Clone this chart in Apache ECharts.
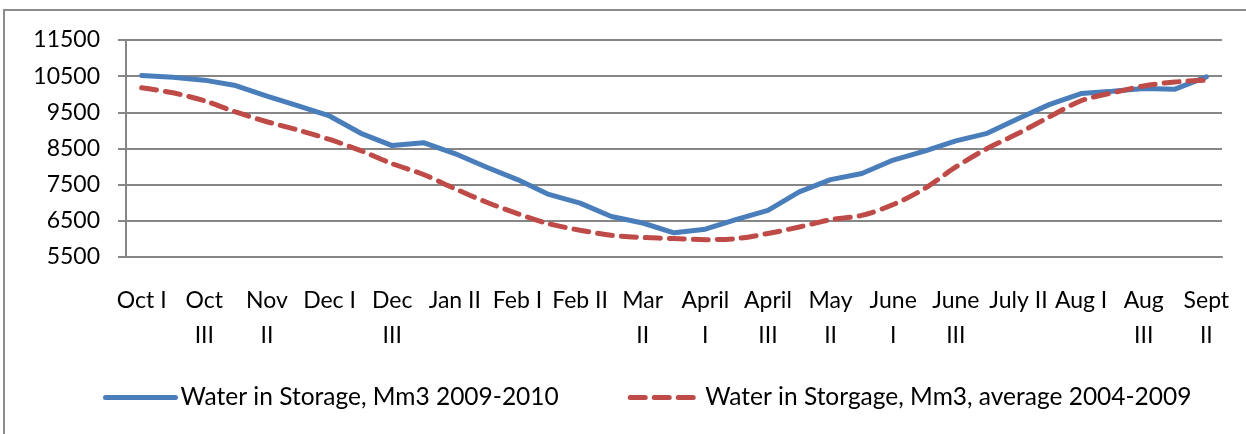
<!DOCTYPE html>
<html lang="en">
	<head>
		<meta charset="utf-8">
	</head>
	<body style="margin: 0; background: #fff">
		<div id="container" style="width: 1246px; height: 434px"></div>
		<script type="text/javascript" src="https://cdn.jsdelivr.net/npm/echarts@6/dist/echarts.min.js"></script>
		<script type="text/javascript">
			// dekads, Oct I .. Sept II (only every other one is shown on the axis)
			const categories = ['Oct I', 'Oct II', 'Oct\nIII', 'Nov I', 'Nov\nII', 'Nov III', 'Dec I', 'Dec II', 'Dec\nIII',
				'Jan I', 'Jan II', 'Jan III', 'Feb I', 'Feb II', 'Feb II', 'Mar I', 'Mar\nII', 'Mar III',
				'April\nI', 'April II', 'April\nIII', 'May I', 'May\nII', 'May III', 'June\nI', 'June II', 'June\nIII',
				'July I', 'July II', 'July III', 'Aug I', 'Aug II', 'Aug\nIII', 'Sept I', 'Sept\nII'
			]
			const storage2009 = [10520, 10470, 10390, 10240, 9950, 9680, 9400, 8920, 8580, 8660, 8360, 7990, 7640, 7230,
				6990, 6620, 6440, 6170, 6270, 6540, 6790, 7300, 7640, 7810, 8180, 8430, 8710, 8920, 9330, 9720, 10020,
				10080, 10160, 10140, 10480
			]
			const storageAvg = [10180, 10040, 9820, 9510, 9240, 9010, 8750, 8440, 8080, 7780, 7390, 7020, 6700, 6420,
				6240, 6100, 6040, 6010, 5980, 6010, 6150, 6330, 6530, 6650, 6950, 7390, 7990, 8500, 8920, 9380, 9820,
				10040, 10230, 10340, 10390
			]

			var chartDom = document.getElementById('container');
			var myChart = echarts.init(chartDom);
			var font = 'Lato';
			var option = {
				animation: false,
				textStyle: {
					fontFamily: font
				},
				graphic: [{
					type: 'rect',
					shape: { x: 4, y: 10, width: 1400, height: 600 },
					style: { fill: 'none', stroke: '#8c8c8c', lineWidth: 2 },
					silent: true
				}],
				grid: {
					left: 126,
					right: 24,
					top: 40,
					bottom: 177
				},
				legend: {
					left: 98,
					top: 380,
					itemWidth: 70,
					itemHeight: 14,
					itemGap: 69,
					itemStyle: { opacity: 0 },
					lineStyle: { width: 5, cap: 'round' },
					textStyle: {
						fontFamily: font,
						fontSize: 24.5,
						color: '#000'
					}
				},
				xAxis: {
					type: 'category',
					boundaryGap: true,
					data: categories,
					axisLine: { lineStyle: { color: '#868686', width: 2 } },
					axisTick: { interval: 0, length: 8, lineStyle: { color: '#868686', width: 2 } },
					axisLabel: {
						interval: 1,
						margin: 26,
						fontSize: 23,
						lineHeight: 35,
						color: '#000',
						fontFamily: font
					}
				},
				yAxis: {
					type: 'value',
					min: 5500,
					max: 11500,
					interval: 1000,
					axisLine: { show: true, lineStyle: { color: '#868686', width: 2 } },
					axisTick: { show: true, length: 8, lineStyle: { color: '#868686', width: 2 } },
					splitLine: { lineStyle: { color: '#868686', width: 2 } },
					axisLabel: {
						margin: 26,
						fontSize: 23,
						color: '#000',
						fontFamily: font,
						formatter: function(v) {
							return String(v)
						}
					}
				},
				series: [{
						name: 'Water in Storage, Mm3 2009-2010',
						type: 'line',
						data: storage2009,
						symbol: 'none',
						color: '#4A7EBB',
						lineStyle: { width: 5, color: '#4A7EBB', cap: 'round', join: 'round' }
					},
					{
						name: 'Water in Storgage, Mm3, average 2004-2009',
						type: 'line',
						data: storageAvg,
						symbol: 'none',
						smooth: 0.3,
						color: '#BE4B48',
						lineStyle: { width: 5, color: '#BE4B48', type: [15, 9], cap: 'round' }
					}
				]
			};
			myChart.setOption(option);
		</script>
	</body>
</html>
